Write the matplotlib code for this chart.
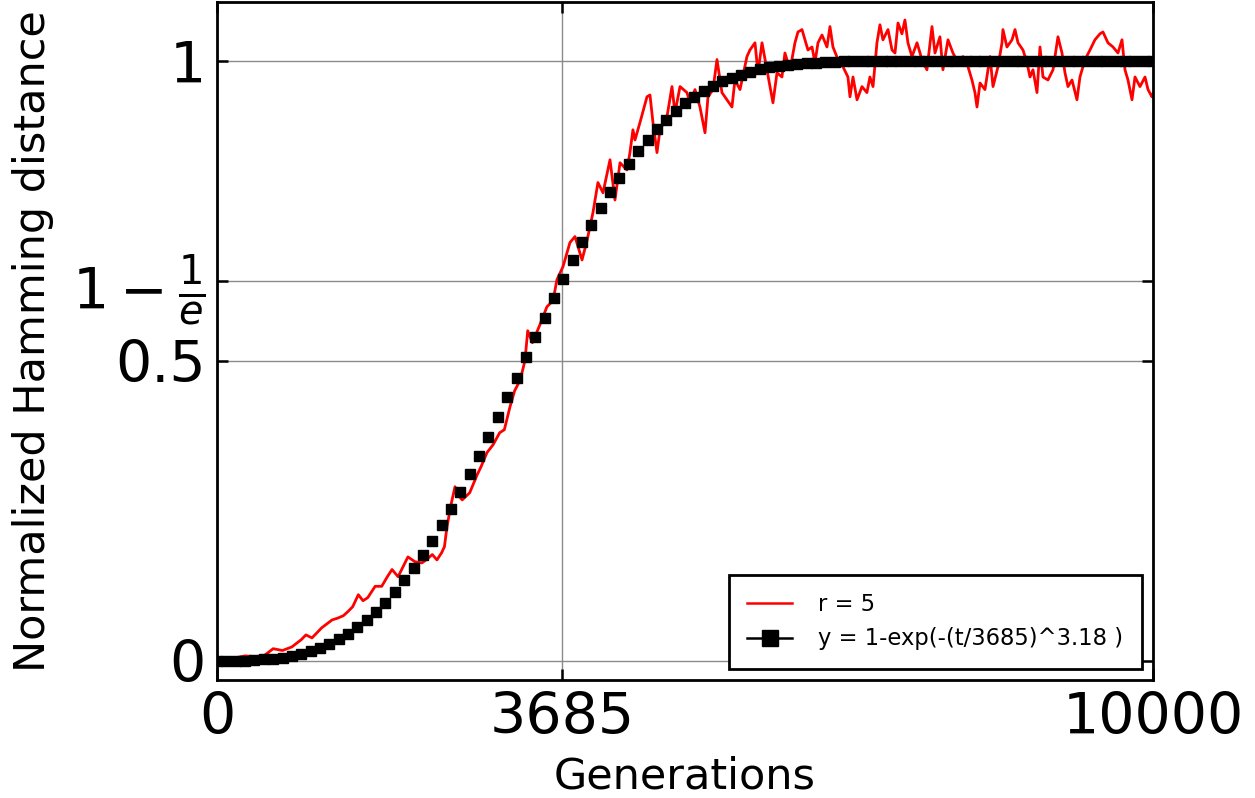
import numpy as np
import matplotlib
matplotlib.use("Agg")
import matplotlib.pyplot as plt
from matplotlib.lines import Line2D

# ---- data ----
red_t = [0, 100, 200, 300, 400, 500, 600, 700, 800, 900, 950, 1015, 1120, 1230, 1290,
         1350, 1400, 1450, 1510, 1560, 1610, 1690, 1760, 1820, 1870, 1935, 2040, 2115,
         2190, 2250, 2300, 2350, 2400, 2430, 2457, 2500, 2543, 2580, 2620, 2700, 2780,
         2820, 2885, 2950, 3020, 3070, 3130, 3180, 3240, 3290, 3320, 3370, 3450, 3525,
         3590, 3632, 3697, 3771, 3825, 3900, 3953, 4017, 4070, 4124, 4199, 4252, 4306,
         4380, 4412, 4444, 4466, 4519, 4594, 4626, 4658, 4701, 4733, 4808, 4861, 4893,
         4947, 5021, 5053, 5107, 5160, 5214, 5246, 5299, 5342, 5395, 5449, 5502, 5534,
         5588, 5662, 5694, 5748, 5780, 5823, 5876, 5908, 5940, 5983, 6036, 6068, 6122,
         6175, 6207, 6250, 6282, 6314, 6357, 6389, 6421, 6464, 6517, 6549, 6581, 6635,
         6688, 6741, 6763, 6795, 6838, 6891, 6944, 6976, 7009, 7051, 7083, 7115, 7169,
         7212, 7244, 7276, 7318, 7350, 7382, 7425, 7479, 7532, 7585, 7639, 7671, 7724,
         7756, 7810, 7863, 7917, 7970, 8024, 8066, 8098, 8120, 8152, 8205, 8259, 8291,
         8344, 8387, 8397, 8440, 8494, 8526, 8558, 8611, 8654, 8686, 8718, 8761, 8793,
         8825, 8878, 8932, 8985, 9028, 9060, 9092, 9135, 9188, 9220, 9274, 9327, 9380,
         9434, 9466, 9519, 9573, 9626, 9669, 9701, 9733, 9776, 9808, 9861, 9915, 9947,
         9989, 10000]
red_y = [0.002, 0.003, 0.005, 0.008, 0.007, 0.008, 0.020, 0.017, 0.023, 0.035, 0.043,
         0.038, 0.055, 0.068, 0.071, 0.075, 0.082, 0.090, 0.110, 0.100, 0.105, 0.124,
         0.124, 0.140, 0.152, 0.140, 0.173, 0.165, 0.163, 0.170, 0.177, 0.168, 0.180,
         0.190, 0.223, 0.260, 0.290, 0.275, 0.268, 0.280, 0.310, 0.323, 0.347, 0.360,
         0.380, 0.385, 0.423, 0.450, 0.468, 0.500, 0.550, 0.530, 0.560, 0.590, 0.600,
         0.635, 0.657, 0.697, 0.707, 0.668, 0.700, 0.747, 0.797, 0.780, 0.835, 0.768,
         0.830, 0.818, 0.847, 0.885, 0.868, 0.897, 0.940, 0.943, 0.897, 0.847, 0.885,
         0.907, 0.957, 0.913, 0.957, 0.947, 0.930, 0.952, 0.923, 0.880, 0.940, 0.952,
         1.002, 0.947, 0.935, 0.923, 0.968, 0.952, 1.007, 1.018, 1.030, 0.980, 1.030,
         0.985, 0.957, 0.930, 0.980, 0.973, 1.013, 0.985, 1.030, 1.048, 1.052, 1.035,
         1.018, 1.023, 0.997, 1.030, 1.043, 1.023, 1.057, 1.023, 1.002, 0.990, 0.973,
         0.940, 0.973, 0.935, 0.957, 0.947, 0.973, 0.957, 1.030, 1.060, 1.035, 1.052,
         1.018, 1.013, 1.063, 1.045, 1.068, 1.030, 1.007, 1.030, 1.002, 0.985, 1.057,
         1.013, 1.040, 0.985, 1.035, 1.013, 0.997, 1.007, 0.990, 0.968, 0.947, 0.923,
         0.963, 0.952, 1.007, 0.957, 0.990, 1.030, 1.052, 1.023, 1.035, 1.052, 1.030,
         1.018, 0.997, 0.973, 0.985, 0.947, 1.023, 0.973, 0.968, 0.985, 1.040, 1.013,
         0.980, 0.957, 0.968, 0.935, 0.973, 1.002, 1.018, 1.035, 1.045, 1.048, 1.030,
         1.023, 1.013, 1.035, 0.985, 0.968, 0.935, 0.973, 0.957, 0.973, 0.952, 0.940,
         0.945]

fit_t = list(range(0, 10001, 100))
fit_y = [0.000, 0.000, 0.000, 0.000, 0.001, 0.002, 0.003, 0.005, 0.008, 0.011, 0.016,
         0.021, 0.028, 0.036, 0.045, 0.056, 0.068, 0.082, 0.097, 0.115, 0.134, 0.154,
         0.176, 0.200, 0.226, 0.253, 0.281, 0.311, 0.341, 0.373, 0.406, 0.439, 0.472,
         0.506, 0.539, 0.572, 0.605, 0.637, 0.668, 0.698, 0.727, 0.755, 0.781, 0.805,
         0.828, 0.849, 0.868, 0.886, 0.902, 0.916, 0.929, 0.940, 0.950, 0.958, 0.966,
         0.972, 0.977, 0.982, 0.986, 0.989, 0.991, 0.993, 0.995, 0.996, 0.997, 0.998,
         0.998, 0.999, 0.999, 0.999, 1.000, 1.000, 1.000, 1.000, 1.000, 1.000, 1.000,
         1.000, 1.000, 1.000, 1.000, 1.000, 1.000, 1.000, 1.000, 1.000, 1.000, 1.000,
         1.000, 1.000, 1.000, 1.000, 1.000, 1.000, 1.000, 1.000, 1.000, 1.000, 1.000,
         1.000, 1.000]

x_ticks = [0, 3685, 10000]
x_ticklabels = ["0", "3685", "10000"]
y_ticks = [0, 0.5, 1 - 1 / np.e, 1]
y_ticklabels = ["0", "0.5", r"$1-\frac{1}{e}$", "1"]

red_label = "r = 5"
fit_label = "y = 1-exp(-(t/3685)^3.18 )"

# ---- figure ----
plt.rcParams["font.family"] = ["DejaVu Sans"]
fig = plt.figure(figsize=(12.55, 7.98), dpi=100)
ax = fig.add_axes([0.1729, 0.148, 0.7458, 0.8495])

ax.plot(red_t, red_y, color="red", lw=2.0, zorder=2)
ax.plot(fit_t, fit_y, ls="none", marker="s", ms=6.5, color="black", zorder=3)

ax.set_xlim(0, 10000)
ax.set_ylim(-0.032, 1.098)
ax.set_xticks(x_ticks)
ax.set_xticklabels(x_ticklabels)
ax.set_yticks(y_ticks)
ax.set_yticklabels(y_ticklabels)
ax.grid(True, color="#8a8a8a", lw=1.0)
ax.set_axisbelow(True)

ax.tick_params(direction="in", length=8, width=1.8, top=True, right=True,
               labelsize=41)
ax.tick_params(axis="y", pad=8)
ax.tick_params(axis="x", pad=8)
for s in ax.spines.values():
    s.set_linewidth(2.0)

ax.set_xlabel("Generations", fontsize=31, labelpad=7)
ax.set_ylabel("Normalized Hamming distance", fontsize=31, labelpad=13)

handles = [Line2D([], [], color="red", lw=1.8),
           Line2D([], [], color="black", lw=1.8, marker="s", ms=11)]
leg = ax.legend(handles, [red_label, fit_label], loc="lower right", fontsize=16.3,
                fancybox=False, framealpha=1, edgecolor="black",
                borderpad=0.8, labelspacing=0.5, handletextpad=1.15,
                borderaxespad=0.5)
leg.get_frame().set_linewidth(2.0)

fig.savefig("out.png", dpi=100)
